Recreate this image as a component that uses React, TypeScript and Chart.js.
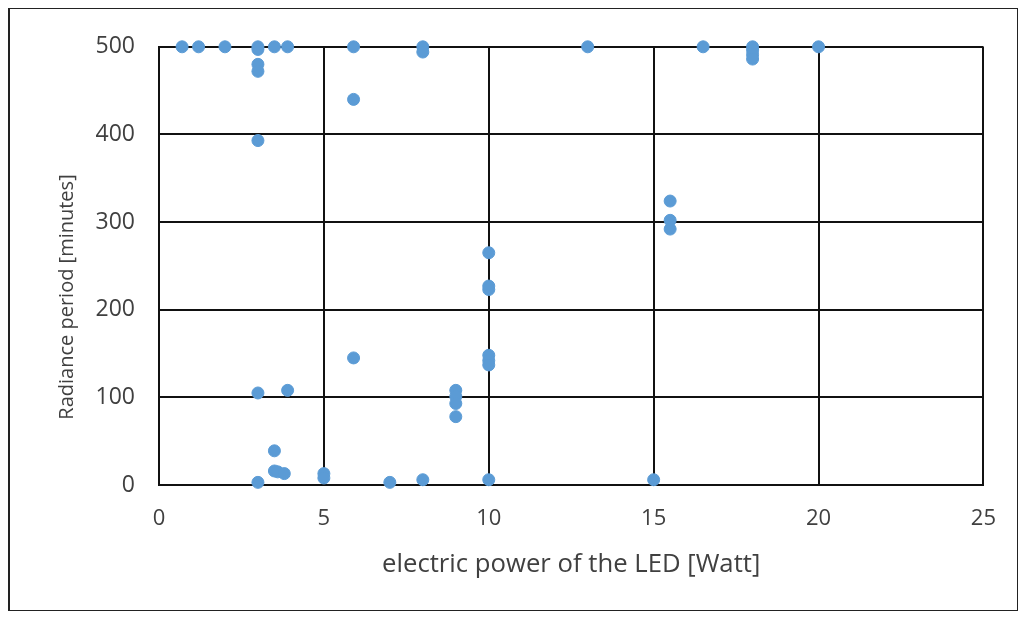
import React, { useEffect, useRef } from "react";
import { Chart, registerables } from "chart.js";

Chart.register(...registerables);

const powerWatt: number[] = [
  0.7, 1.2, 2, 3, 3, 3, 3, 3, 3.5, 3.9, 5.9, 5.9, 8, 8, 13, 16.5, 18, 18, 18, 18, 20,
  15.5, 15.5, 15.5,
  10, 10, 10, 10, 10, 10,
  9, 9, 9, 9,
  5.9, 3, 3.9, 3.5, 3.5, 3.6, 3.8, 3, 5, 5, 7, 8, 10, 15,
];

const periodMinutes: number[] = [
  500, 500, 500, 500, 497, 480, 472, 393, 500, 500, 500, 440, 500, 494, 500, 500, 500, 496, 491, 486, 500,
  324, 302, 292,
  265, 227, 223, 148, 142, 137,
  108, 101, 93, 78,
  145, 105, 108, 39, 16, 15, 13, 3, 13, 8, 3, 6, 6, 6,
];

const xTicks: number[] = [0, 5, 10, 15, 20, 25];
const yTicks: number[] = [0, 100, 200, 300, 400, 500];

const xTitle = "electric power of the LED [Watt]";
const yTitle = "Radiance period [minutes]";

const fontFamily = "'Open Sans', 'Noto Sans', sans-serif";

const yTitlePlugin = {
  id: "yTitleText",
  afterDraw(chart: any) {
    const ctx = chart.ctx;
    ctx.save();
    ctx.translate(57, 288);
    ctx.rotate(-Math.PI / 2);
    ctx.fillStyle = "#404040";
    ctx.font = `20px ${fontFamily}`;
    ctx.textAlign = "center";
    ctx.textBaseline = "middle";
    ctx.fillText(yTitle, 0, 0);
    ctx.restore();
  },
};

export default function App() {
  const ref = useRef<HTMLCanvasElement | null>(null);

  useEffect(() => {
    if (!ref.current) return;
    const points = powerWatt.map((x, i) => ({ x, y: periodMinutes[i] }));
    const chart = new Chart(ref.current, {
      type: "scatter",
      data: {
        datasets: [
          {
            data: points,
            backgroundColor: "#5B9BD5",
            borderColor: "#5B9BD5",
            borderWidth: 1,
            pointRadius: 6,
            pointHoverRadius: 6,
            clip: false,
          },
        ],
      },
      plugins: [yTitlePlugin],
      options: {
        animation: false,
        responsive: false,
        events: [],
        layout: { padding: { left: 0, right: 27, top: 35, bottom: 0 } },
        plugins: { legend: { display: false }, tooltip: { enabled: false } },
        scales: {
          x: {
            type: "linear",
            min: 0,
            max: 25,
            afterBuildTicks: (s: any) => {
              s.ticks = xTicks.map((v) => ({ value: v }));
            },
            afterFit: (s: any) => {
              s.height = 125;
            },
            grid: { color: "#111", lineWidth: 2, drawTicks: false },
            border: { color: "#111", width: 2 },
            ticks: {
              padding: 21,
              color: "#404040",
              font: { family: fontFamily, size: 22 },
            },
            title: {
              display: true,
              text: xTitle,
              color: "#404040",
              font: { family: fontFamily, size: 25.7 },
              padding: { top: 0, bottom: 30 },
            },
          },
          y: {
            type: "linear",
            min: 0,
            max: 500,
            afterBuildTicks: (s: any) => {
              s.ticks = yTicks.map((v) => ({ value: v }));
            },
            afterFit: (s: any) => {
              s.width = 149;
            },
            grid: { color: "#111", lineWidth: 2, drawTicks: false },
            border: { color: "#111", width: 2 },
            ticks: {
              padding: 24,
              color: "#404040",
              font: { family: fontFamily, size: 23 },
            },
            title: { display: false },
          },
        },
      },
    });
    return () => chart.destroy();
  }, []);

  return (
    <div
      style={{
        width: 1010,
        height: 603,
        boxSizing: "border-box",
        border: "1px solid #222",
        borderLeftWidth: 2,
        background: "#fff",
      }}
    >
      <canvas ref={ref} width={1007} height={601} style={{ display: "block" }} />
    </div>
  );
}
